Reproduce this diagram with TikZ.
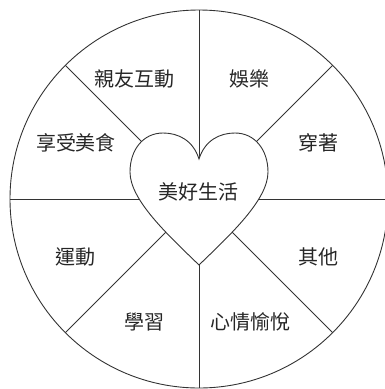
\documentclass[tikz,border=0pt]{standalone}
\usepackage{fontspec}
\newfontfamily\cjk{Noto Sans CJK TC}
\begin{document}
\begin{tikzpicture}[x=1pt,y=-1pt,
  ln/.style={draw=black!80,line width=0.9pt},
  lbl/.style={font=\cjk\fontsize{20}{22}\selectfont,text=black!85,inner sep=0pt}]
\useasboundingbox (0,0) rectangle (385,389);
\coordinate (c) at (199,199);
\clip (0,0) rectangle (385,389);
% circle
\draw[ln] (c) circle (189);
% spokes
\foreach \a in {0,45,...,315}
  \draw[ln] (c) -- ++(\a:189);
% heart
\draw[ln,fill=white] (199,159)
  .. controls (205,140) and (220,133) .. (235,133)
  .. controls (255,133) and (268,150) .. (268,172)
  .. controls (268,200) and (230,235) .. (199,265)
  .. controls (168,235) and (130,200) .. (130,172)
  .. controls (130,150) and (143,133) .. (163,133)
  .. controls (178,133) and (193,140) .. (199,159) -- cycle;
% labels
\node[lbl] (center) at (198,192) {美好生活};
\node[lbl] (a) at (134.5,79) {親友互動};
\node[lbl] (b) at (249.5,79) {娛樂};
\node[lbl] (d) at (76,143) {享受美食};
\node[lbl] (e) at (318,143) {穿著};
\node[lbl] (f) at (76,257) {運動};
\node[lbl] (g) at (318,257) {其他};
\node[lbl] (h) at (144,322) {學習};
\node[lbl] (i) at (250,322) {心情愉悅};
\end{tikzpicture}
\end{document}
